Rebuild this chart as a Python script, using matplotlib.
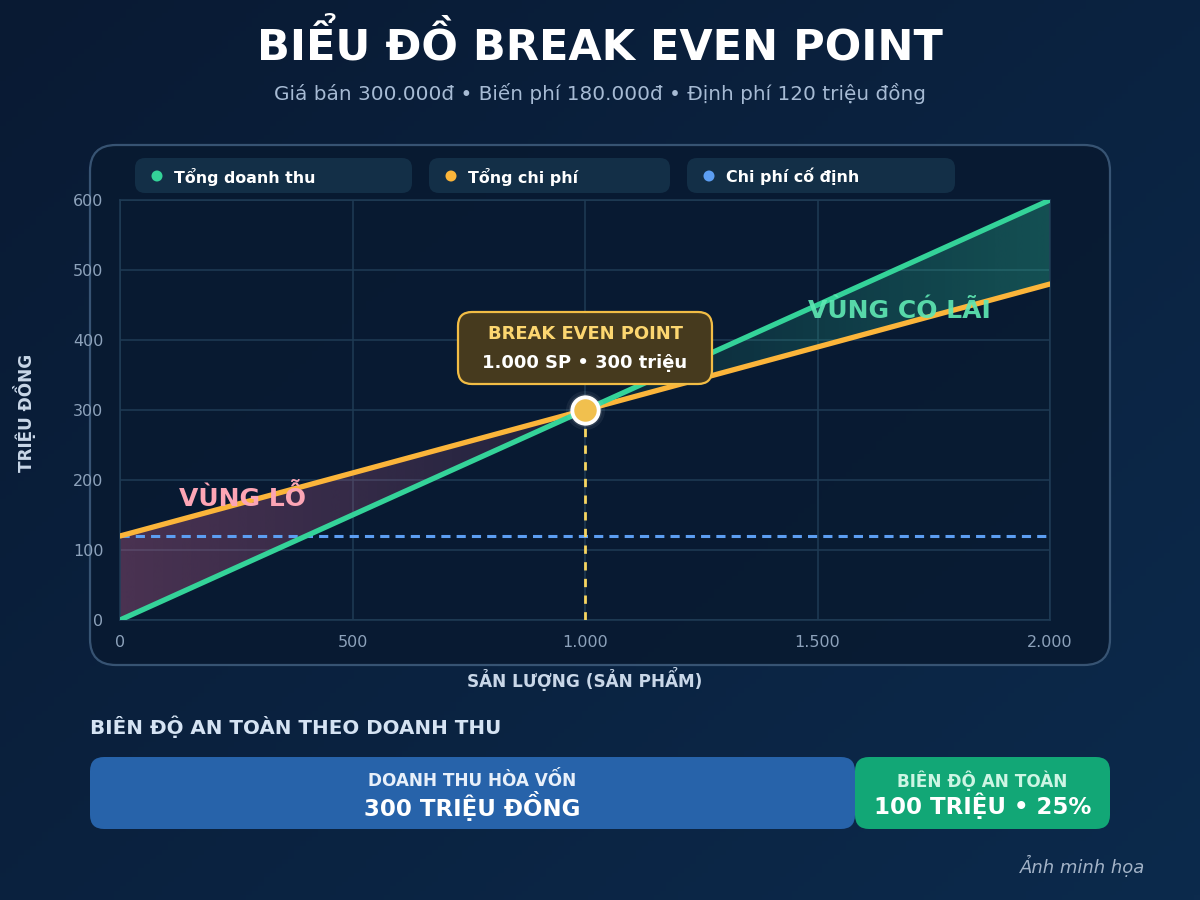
import numpy as np
import matplotlib
matplotlib.use("Agg")
import matplotlib.pyplot as plt
from matplotlib.patches import FancyBboxPatch, Circle
from matplotlib.ticker import FuncFormatter

plt.rcParams['font.family'] = ['DejaVu Sans']

# ---------------- data ----------------
quantity = [0, 500, 1000, 1500, 2000]          # sản phẩm
revenue = [0, 150, 300, 450, 600]              # triệu đồng
total_cost = [120, 210, 300, 390, 480]         # triệu đồng
fixed_cost = [120, 120, 120, 120, 120]         # triệu đồng
bep_q, bep_v = 1000, 300
x_ticks = [0, 500, 1000, 1500, 2000]
y_ticks = [0, 100, 200, 300, 400, 500, 600]
legend_labels = ["Tổng doanh thu", "Tổng chi phí", "Chi phí cố định"]
bar_values = [300, 100]                        # doanh thu hòa vốn, biên độ an toàn
bar_titles = ["DOANH THU HÒA VỐN", "BIÊN ĐỘ AN TOÀN"]
bar_texts = ["300 TRIỆU ĐỒNG", "100 TRIỆU • 25%"]

C_REV = "#34d399"
C_COST = "#fbb53a"
C_FIX = "#5c9ef2"

W, H = 1200, 900
fig = plt.figure(figsize=(12, 9), dpi=100)

# ---------------- background ----------------
bg = fig.add_axes([0, 0, 1, 1], zorder=-10)
bg.set_xlim(0, W); bg.set_ylim(H, 0); bg.axis('off')
yy, xx = np.mgrid[0:1:200j, 0:1:200j]
t = (xx * 0.55 + yy * 0.45)
c0 = np.array([0x09, 0x1a, 0x33]) / 255
c1 = np.array([0x0c, 0x2a, 0x4c]) / 255
grad = c0[None, None, :] * (1 - t[..., None]) + c1[None, None, :] * t[..., None]
bg.imshow(grad, extent=[0, W, H, 0], aspect='auto', zorder=0)

# panel
bg.add_patch(FancyBboxPatch((90, 145), 1020, 520, boxstyle="round,pad=0,rounding_size=26",
                            fc="#081a31", ec="#3d5a7a", lw=1.6, alpha=0.9, zorder=1))

# legend boxes
leg_boxes = [(135, 277), (429, 241), (687, 268)]
leg_colors = [C_REV, C_COST, C_FIX]
for (x0, w), lab, col in zip(leg_boxes, legend_labels, leg_colors):
    bg.add_patch(FancyBboxPatch((x0, 158), w, 35, boxstyle="round,pad=0,rounding_size=10",
                                fc="#132f47", ec="none", zorder=2))
    bg.add_patch(Circle((x0 + 22, 176), 5.5, fc=col, ec="none", zorder=3))
    bg.text(x0 + 39, 176.5, lab, color="white", fontsize=11.4, fontweight="bold",
            va="center", ha="left", zorder=3)

# titles
fig.text(0.5, 1 - 45 / H, "BIỂU ĐỒ BREAK EVEN POINT", ha="center", va="center",
         color="white", fontsize=31, fontweight="bold")
fig.text(0.5, 1 - 93 / H, "Giá bán 300.000đ • Biến phí 180.000đ • Định phí 120 triệu đồng",
         ha="center", va="center", color="#a7bbd4", fontsize=14.4)

# ---------------- main chart ----------------
ax = fig.add_axes([120 / W, 1 - 620 / H, 930 / W, 420 / H])
ax.set_facecolor("none")
ax.set_xlim(0, 2000); ax.set_ylim(0, 600)
ax.set_xticks(x_ticks); ax.set_yticks(y_ticks)
ax.xaxis.set_major_formatter(FuncFormatter(lambda v, p: f"{int(v):,}".replace(",", ".")))
ax.tick_params(colors="#8da2bb", labelsize=11.5, length=0)
ax.tick_params(axis='x', pad=11)
ax.tick_params(axis='y', pad=12)
ax.grid(True, color="#1f3b55", lw=1.1)
for s in ax.spines.values():
    s.set_color("#1f3b55"); s.set_linewidth(1.1)
ax.set_axisbelow(True)

q = np.array(quantity, float); r = np.array(revenue, float); c = np.array(total_cost, float)

# loss region gradient
mask_l = q <= bep_q
poly_l = ax.fill_between(q[mask_l], r[mask_l], c[mask_l], color="none", lw=0)
gl = np.linspace(1, 0.35, 256)[None, :]
rgba_l = np.zeros((1, 256, 4)); rgba_l[..., :3] = np.array([0xe6, 0x6c, 0x9c]) / 255
rgba_l[..., 3] = 0.3 * gl
im = ax.imshow(rgba_l, extent=[0, bep_q, 0, 600], aspect='auto', zorder=1)
im.set_clip_path(poly_l.get_paths()[0], transform=ax.transData)

# profit region gradient
mask_p = q >= bep_q
poly_p = ax.fill_between(q[mask_p], c[mask_p], r[mask_p], color="none", lw=0)
gp = np.linspace(0.2, 1, 256)[None, :]
rgba_p = np.zeros((1, 256, 4)); rgba_p[..., :3] = np.array([0x2e, 0xc4, 0x9a]) / 255
rgba_p[..., 3] = 0.32 * gp
im2 = ax.imshow(rgba_p, extent=[bep_q, 2000, 0, 600], aspect='auto', zorder=1)
im2.set_clip_path(poly_p.get_paths()[0], transform=ax.transData)
ax.set_xlim(0, 2000); ax.set_ylim(0, 600)

# lines
ax.plot(q, fixed_cost, color=C_FIX, lw=2.2, ls=(0, (3, 2)), zorder=3)
ax.plot(q, c, color=C_COST, lw=3.8, solid_capstyle='round', zorder=4)
ax.plot(q, r, color=C_REV, lw=3.8, solid_capstyle='round', zorder=5)

# BEP guide
ax.plot([bep_q, bep_q], [0, bep_v], color="#f7d560", lw=2, ls=(0, (3, 3)), zorder=3)
for s_, a_ in [(28, 0.06), (24, 0.1), (20, 0.18)]:
    ax.scatter([bep_q], [bep_v], s=s_ ** 2, color="white", alpha=a_, lw=0, zorder=6, clip_on=False)
ax.scatter([bep_q], [bep_v], s=19 ** 2, color="#f1c04e", edgecolor="white", lw=2.8, zorder=7, clip_on=False)

# annotation
ax.text(bep_q, 408, "BREAK EVEN POINT", ha="center", va="center", color="#fcd670",
        fontsize=12.9, fontweight="bold", zorder=9)
ax.text(bep_q, 367, "1.000 SP • 300 triệu", ha="center", va="center", color="white",
        fontsize=12.9, fontweight="bold", zorder=9)
bg_box = FancyBboxPatch((458, 312), 254, 72, boxstyle="round,pad=0,rounding_size=14",
                        fc="#463a1e", ec="#f2bd45", lw=1.6, zorder=8,
                        transform=bg.transData)
ax.add_artist(bg_box)

ax.text(264, 175, "VÙNG LỖ", color="#fca5b5", fontsize=18, fontweight="bold",
        ha="center", va="center", zorder=6)
ax.text(1677, 441, "VÙNG CÓ LÃI", color="#5ee6b2", fontsize=18, fontweight="bold",
        ha="center", va="center", zorder=6, alpha=0.92)

fig.text(585 / W, 1 - 679 / H, "SẢN LƯỢNG (SẢN PHẨM)", color="#c9d7e8", fontsize=12.2,
         fontweight="bold", ha="center", va="center")
fig.text(25 / W, 1 - 413 / H, "TRIỆU ĐỒNG", color="#c9d7e8", fontsize=12.2,
         fontweight="bold", ha="center", va="center", rotation=90)

# ---------------- bottom bar ----------------
fig.text(90 / W, 1 - 727 / H, "BIÊN ĐỘ AN TOÀN THEO DOANH THU", color="#d5e3f3",
         fontsize=14.3, fontweight="bold", ha="left", va="center")
total = sum(bar_values)
bx = fig.add_axes([90 / W, 1 - 829 / H, 1020 / W, 72 / H])
bx.axis('off')
hh = 72 * total / 1020
bx.set_xlim(0, total); bx.set_ylim(0, hh)
rs = 14 * total / 1020
left = 0
for v, col, t1, t2, c1col in zip(bar_values, ["#2763aa", "#12a776"], bar_titles, bar_texts,
                                 ["#e8f0fa", "#cdf5e4"]):
    bx.add_patch(FancyBboxPatch((left, 0), v, hh, boxstyle=f"round,pad=0,rounding_size={rs}",
                                fc=col, ec="none"))
    bx.text(left + v / 2, hh * (1 - 24 / 72), t1, color=c1col, fontsize=12.2, fontweight="bold",
            ha="center", va="center")
    bx.text(left + v / 2, hh * (1 - 49 / 72), t2, color="white", fontsize=16.5, fontweight="bold",
            ha="center", va="center")
    left += v

fig.text(1145 / W, 1 - 866 / H, "Ảnh minh họa", color="#a3b3c7", fontsize=13,
         style="italic", ha="right", va="center")

fig.savefig("out.png", dpi=100)
